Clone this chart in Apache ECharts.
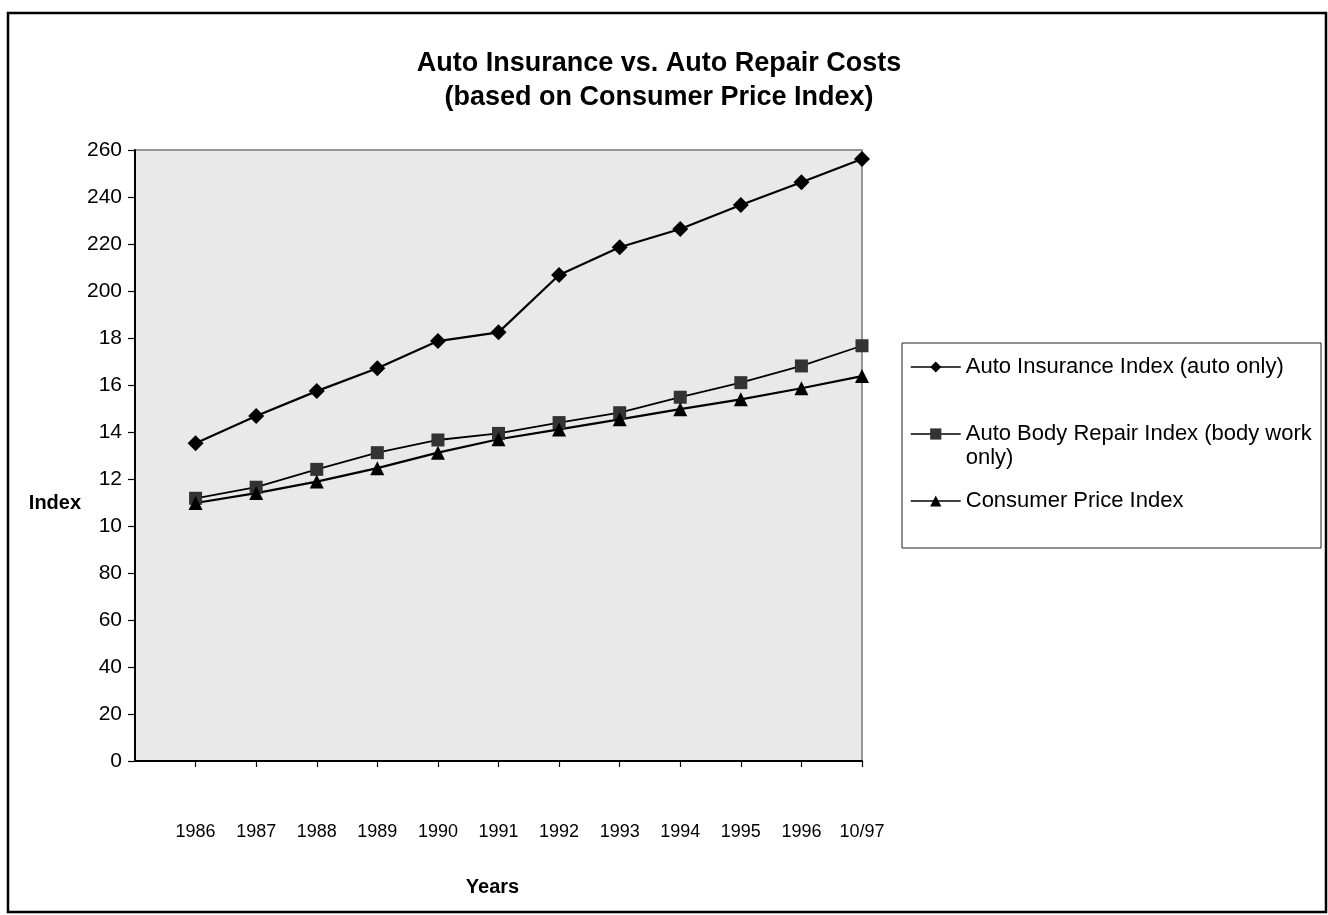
<!DOCTYPE html>
<html>
<head>
<meta charset="utf-8">
<script src="https://cdn.jsdelivr.net/npm/echarts@6/dist/echarts.min.js"></script>
<style>
html,body{margin:0;padding:0;background:#fff;}
#chart{width:1328px;height:915px;}
</style>
</head>
<body>
<div id="chart"></div>
<script>
// ---- data ----
var years = ['1986','1987','1988','1989','1990','1991','1992','1993','1994','1995','1996','10/97'];
var autoInsurance = [135.2, 146.8, 157.4, 167.1, 178.7, 182.4, 206.8, 218.6, 226.4, 236.6, 246.3, 256.2];
var bodyRepair = [111.8, 116.5, 124.1, 131.2, 136.6, 139.4, 144.0, 148.2, 154.8, 161.0, 168.1, 176.7];
var cpi = [109.8, 114.0, 118.9, 124.6, 131.2, 136.9, 141.1, 145.4, 149.7, 153.9, 158.6, 163.8];
// tick labels exactly as printed on the reference (0 .. 260 step 20)
var yTickLabels = ['0','20','40','60','80','10','12','14','16','18','200','220','240','260'];
var seriesNames = ['Auto Insurance Index (auto only)', 'Auto Body Repair Index (body work only)', 'Consumer Price Index'];

var categories = [''].concat(years);
function pad(arr){ return ['-'].concat(arr); }

var FONT = '"Liberation Sans", Arial, Helvetica, sans-serif';

var chart = echarts.init(document.getElementById('chart'), null, {renderer:'canvas'});
var legendBase = {
  orient: 'horizontal', left: 905, itemWidth: 50, itemHeight: 14, itemGap: 9,
  textStyle: {fontFamily: FONT, fontSize: 22, color: '#000', lineHeight: 24},
  lineStyle: {width: 1.5}, selectedMode: false
};
var option = {
  backgroundColor: '#fff',
  animation: false,
  title: {
    text: 'Auto Insurance vs. Auto Repair Costs\n(based on Consumer Price Index)',
    left: 654, top: 42, textAlign: 'center',
    textStyle: {fontFamily: FONT, fontWeight: 'bold', fontSize: 27, lineHeight: 34, color: '#000'}
  },
  graphic: [
    {type:'rect', z: -10, shape:{x:8, y:13, width:1318, height:899}, style:{fill:'none', stroke:'#000', lineWidth:2.5}},
    {type:'rect', z: -5, shape:{x:902, y:343, width:419, height:205}, style:{fill:'#fff', stroke:'#222', lineWidth:1}}
  ],
  legend: [
    Object.assign({}, legendBase, {top: 350, data: [seriesNames[0]]}),
    Object.assign({}, legendBase, {top: 393, data: [seriesNames[1]],
      formatter: function(){ return '\nAuto Body Repair Index (body work\nonly)'; }}),
    Object.assign({}, legendBase, {top: 484, data: [seriesNames[2]]})
  ],
  grid: {left: 135, right: 466, top: 150, bottom: 154, show: true,
         backgroundColor: '#e9e9e9', borderColor: '#777', borderWidth: 1.5},
  xAxis: {
    type: 'category', data: categories, boundaryGap: false,
    name: 'Years', nameLocation: 'middle', nameGap: 116,
    nameTextStyle: {fontFamily: FONT, fontWeight: 'bold', fontSize: 20, color: '#000', padding: [0,12,0,0]},
    axisLine: {lineStyle: {color: '#000', width: 2}},
    axisTick: {show: true, length: 6, lineStyle: {color: '#000', width: 1.2},
               interval: function(i){ return i > 0; }},
    axisLabel: {margin: 62, interval: 0, fontFamily: FONT, fontSize: 18, color: '#000'},
    splitLine: {show: false}
  },
  yAxis: {
    type: 'value', min: 0, max: 260, interval: 20,
    name: 'Index', nameLocation: 'middle', nameRotate: 0, nameGap: 53,
    nameTextStyle: {fontFamily: FONT, fontWeight: 'bold', fontSize: 20, color: '#000',
                    verticalAlign: 'top', lineHeight: 96},
    axisLine: {show: true, lineStyle: {color: '#000', width: 2}},
    axisTick: {show: true, length: 7, lineStyle: {color: '#000', width: 1.2}},
    axisLabel: {margin: 13, fontFamily: FONT, fontSize: 21, color: '#000',
                formatter: function(v){ return yTickLabels[Math.round(v/20)]; }},
    splitLine: {show: false}
  },
  series: [
    {name: seriesNames[0], type: 'line', data: pad(autoInsurance), symbol: 'diamond', symbolSize: 16,
     itemStyle: {color: '#000'}, lineStyle: {color: '#000', width: 2.2}},
    {name: seriesNames[1], type: 'line', data: pad(bodyRepair), symbol: 'rect', symbolSize: 13,
     itemStyle: {color: '#333'}, lineStyle: {color: '#000', width: 1.8}},
    {name: seriesNames[2], type: 'line', data: pad(cpi), symbol: 'triangle', symbolSize: 14,
     itemStyle: {color: '#000'}, lineStyle: {color: '#000', width: 2.2}}
  ]
};
chart.setOption(option);
</script>
</body>
</html>
